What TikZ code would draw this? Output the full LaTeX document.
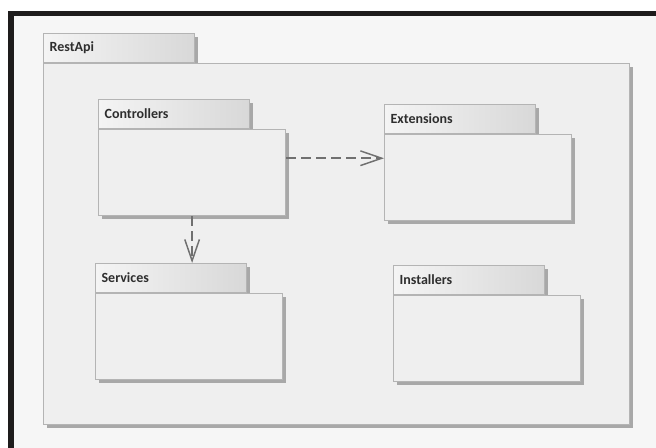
\documentclass[tikz,border=0pt]{standalone}
\usepackage{fontspec}
\setmainfont{Carlito}
\usetikzlibrary{calc}
\usetikzlibrary{shadows}
\usetikzlibrary{arrows.meta}
\usepackage{xcolor}
\definecolor{pkgline}{HTML}{B4B4B4}
\definecolor{pkgshadow}{HTML}{A8A8A8}
\definecolor{pkgfill}{HTML}{EFEFEF}
\definecolor{tabdark}{HTML}{D8D8D8}
\definecolor{tablight}{HTML}{F4F4F4}
\definecolor{canvas}{HTML}{F6F6F6}
\definecolor{frame}{HTML}{1E1C1C}
\definecolor{deparrow}{HTML}{707070}
\definecolor{labeltext}{HTML}{2E2E2E}

\begin{document}
\begin{tikzpicture}[x=0.75pt, y=-0.75pt,
		tab/.style  = {rectangle, draw=pkgline, line width=0.9pt, left color=tablight, right color=tabdark,
			anchor=north west, minimum height=21.75pt, text width=104.25pt, inner xsep=4.5pt, inner ysep=0pt,
			align=left, text=labeltext, font=\bfseries\fontsize{10.5}{12}\selectfont,
			general shadow={fill=pkgshadow, shadow xshift=2.25pt, shadow yshift=-2.25pt}},
		body/.style = {rectangle, draw=pkgline, line width=0.9pt, fill=pkgfill, anchor=north west,
			minimum width=140.25pt, minimum height=64.5pt, inner sep=0pt,
			general shadow={fill=pkgshadow, shadow xshift=2.25pt, shadow yshift=-2.25pt}},
		dep/.style  = {draw=deparrow, line width=1.1pt, dash pattern=on 7.5pt off 3.75pt,
			-{Straight Barb[length=16pt, width=11pt, line width=1.1pt]}}
		]
		
		\useasboundingbox (0,0) rectangle (656,448);
		
		% === === Frame === ===
		\fill[canvas]	(8,11)	rectangle	(656,448);
		\fill[frame]	(8,11)	rectangle	(656,16);
		\fill[frame]	(8,11)	rectangle	(14,448);
		
		
		% === === Packages === ===
		\node[tab]	(apitab)	at	(43,33)		{RestApi};
		\node[body, minimum width=439.5pt, minimum height=270.75pt]	(api)	at	(apitab.south west)	{};
		
		\node[tab]	(ctrltab)	at	(98,99)		{Controllers};
		\node[body]	(ctrl)		at	(ctrltab.south west)	{};
		
		\node[tab]	(exttab)	at	(384,104)	{Extensions};
		\node[body]	(ext)		at	(exttab.south west)		{};
		
		\node[tab]	(svctab)	at	(95,263)	{Services};
		\node[body]	(svc)		at	(svctab.south west)		{};
		
		\node[tab]	(insttab)	at	(393,265)	{Installers};
		\node[body]	(inst)		at	(insttab.south west)	{};
		
		
		% === === Dependencies === ===
		\coordinate	(ctrlout)	at	($(ctrl.north east)!0.333!(ctrl.south east)$);
		\draw[dep]	(ctrlout)		--	(ctrlout -| ext.west);
		\draw[dep]	(ctrl.south)	--	(ctrl.south |- svctab.north);
		
	\end{tikzpicture}
\end{document}
